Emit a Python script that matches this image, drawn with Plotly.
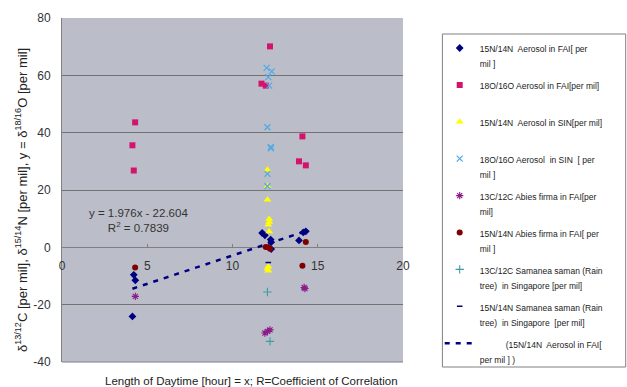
import plotly.graph_objects as go

# ---- data ----
fai_aer_n_x = [4.13, 4.21, 4.30, 11.74, 11.90, 12.24, 12.27, 12.27, 13.90, 14.15, 14.30]
fai_aer_n_y = [-24.1, -9.6, -11.5, 5.0, 4.2, 2.7, 1.8, -0.6, 2.4, 5.2, 5.6]

fai_aer_o_x = [4.29, 4.13, 4.21, 12.20, 11.70, 11.95, 14.10, 13.90, 14.30]
fai_aer_o_y = [43.6, 35.6, 26.8, 70.1, 57.1, 56.4, 38.7, 30.0, 28.6]

sin_aer_n_x = [12.05, 12.05, 12.05, 12.15, 12.15, 12.10, 12.15, 12.10, 12.05, 12.10]
sin_aer_n_y = [27.1, 21.3, 16.6, 9.9, 8.8, 7.9, 5.5, -6.7, -7.5, -8.2]

sin_aer_o_x = [12.00, 12.30, 12.10, 12.15, 12.05, 12.25, 12.25, 12.05, 12.05]
sin_aer_o_y = [62.6, 61.4, 59.4, 56.4, 41.9, 35.0, 34.5, 25.6, 21.3]

fai_abies_c_x = [4.30, 14.20, 14.25, 11.90, 12.05, 12.20]
fai_abies_c_y = [-17.1, -14.0, -14.4, -29.9, -29.3, -28.8]

fai_abies_n_x = [4.29, 11.95, 12.10, 12.20, 14.30, 14.10]
fai_abies_n_y = [-7.0, 0.1, 0.0, -0.5, 1.85, -6.4]

sin_saman_c_x = [12.05, 12.20]
sin_saman_c_y = [-15.6, -32.8]

sin_saman_n_x = [12.10]
sin_saman_n_y = [-5.3]

trend_slope = 1.976
trend_intercept = -22.604
trend_r2 = 0.7839

x_ticks = [0, 5, 10, 15, 20]
y_ticks = [-40, -20, 0, 20, 40, 60, 80]

# ---- figure ----
FONT = "Liberation Sans, Arial, sans-serif"

def lg(t):
    return '<span style="font-size:8.5px">' + t + '</span>'

fig = go.Figure()

series = [
    (fai_aer_n_x, fai_aer_n_y, "15N/14N  Aerosol in FAI[ per<br>mil ]",
     dict(symbol="diamond", color="#000080", size=6)),
    (fai_aer_o_x, fai_aer_o_y, "18O/16O Aerosol in FAI[per mil]<br>\u00a0",
     dict(symbol="square", color="#d4136e", size=6)),
    (sin_aer_n_x, sin_aer_n_y, "15N/14N  Aerosol in SIN[per mil]<br>\u00a0",
     dict(symbol="triangle-up", color="#ffff00", size=7)),
    (sin_aer_o_x, sin_aer_o_y, "18O/16O Aerosol  in SIN  [ per<br>mil ]",
     dict(symbol="x-thin-open", color="#4fa9e8", size=6, line=dict(width=1.2, color="#4fa9e8"))),
    (fai_abies_c_x, fai_abies_c_y, "13C/12C Abies firma in FAI[per<br>mil]",
     dict(symbol="asterisk-open", color="#8b1a8b", size=6, line=dict(width=1.1, color="#8b1a8b"))),
    (fai_abies_n_x, fai_abies_n_y, "15N/14N Abies firma in FAI[ per<br>mil ]",
     dict(symbol="circle", color="#800000", size=6)),
    (sin_saman_c_x, sin_saman_c_y, "13C/12C Samanea saman (Rain<br>tree)  in Singapore [per mil]",
     dict(symbol="cross-thin-open", color="#3a9ea6", size=6, line=dict(width=1.1, color="#3a9ea6"))),
    (sin_saman_n_x, sin_saman_n_y, "15N/14N Samanea saman (Rain<br>tree)  in Singapore  [per mil]",
     dict(symbol="line-ew-open", color="#000080", size=4, line=dict(width=1.5, color="#000080"))),
]

for i, (xs, ys, name, mk) in enumerate(series):
    fig.add_trace(go.Scatter(x=xs, y=ys, mode="markers", name=lg(name.replace("  ", "\u00a0 ")),
                             marker=mk, legendgroup=f"g{i}", cliponaxis=False))

tx = [min(fai_aer_n_x), max(fai_aer_n_x)]
ty = [trend_slope * v + trend_intercept for v in tx]
fig.add_trace(go.Scatter(x=tx, y=ty, mode="lines",
                         name=lg("\u00a0" * 11 + "(15N/14N\u00a0 Aerosol in FAI[<br>per mil ] )"),
                         line=dict(color="#000080", width=2.5, dash="5px,6px"),
                         legendgroup="g9"))

fig.add_annotation(x=4.5, y=9.5, xref="x", yref="y",
                   text=f"y = {trend_slope}x - {abs(trend_intercept)}<br>R<sup>2</sup> = {trend_r2}",
                   showarrow=False, align="center", xanchor="center", yanchor="middle",
                   font=dict(family=FONT, size=11.5, color="#333333"))

# axis titles
fig.add_annotation(x=0.555, y=-0.055, xref="paper", yref="paper",
                   text="Length of Daytime [hour] = x; R=Coefficient of Correlation",
                   showarrow=False, xanchor="center", yanchor="middle",
                   font=dict(family=FONT, size=11.5, color="#222222"))
fig.add_annotation(x=-0.118, y=0.47, xref="paper", yref="paper", textangle=-90,
                   text="δ<sup>13/12</sup>C [per mil], δ<sup>15/14</sup>N [per mil], y = δ<sup>18/16</sup>O [per mil]",
                   showarrow=False, xanchor="center", yanchor="middle",
                   font=dict(family=FONT, size=13, color="#222222"))

# bottom border of plot area
fig.add_shape(type="line", xref="paper", yref="paper", x0=0, x1=1, y0=0, y1=0,
              line=dict(color="#808080", width=1))
# legend box
fig.add_shape(type="rect", xref="paper", yref="paper",
              x0=(442.7 - 62.3) / 341, x1=(626 - 62.3) / 341,
              y0=(362 - 367) / 344, y1=(362 - 34) / 344,
              line=dict(color="#808080", width=1), fillcolor="rgba(0,0,0,0)")

fig.update_layout(
    width=627, height=387,
    margin=dict(l=62, r=224, t=18, b=25),
    paper_bgcolor="white",
    plot_bgcolor="#bbbec8",
    font=dict(family=FONT, size=12, color="#333333"),
    showlegend=True,
    legend=dict(x=(440 - 62.3) / 341, y=(362 - 34) / 344, xanchor="left", yanchor="top",
                bgcolor="rgba(0,0,0,0)", borderwidth=0, valign="top",
                tracegroupgap=4, itemwidth=30,
                font=dict(family=FONT, size=11.5, color="#222222")),
    xaxis=dict(range=[0, 20], tickvals=x_ticks, ticktext=[str(v) for v in x_ticks],
               anchor="free", position=1 / 3, showgrid=False, zeroline=False,
               showline=False, ticks="inside", ticklen=3, tickcolor="#808080",
               ticklabelstandoff=10,
               tickfont=dict(size=12, color="#333333")),
    yaxis=dict(range=[-40, 80], tickvals=y_ticks, ticktext=[str(v) for v in y_ticks],
               showgrid=True, gridcolor="#737373", gridwidth=1,
               zeroline=True, zerolinecolor="#808080", zerolinewidth=1,
               showline=True, linecolor="#808080", linewidth=1,
               ticks="", ticklabelstandoff=8,
               tickfont=dict(size=12, color="#333333")),
)

fig.write_html("out.html")
